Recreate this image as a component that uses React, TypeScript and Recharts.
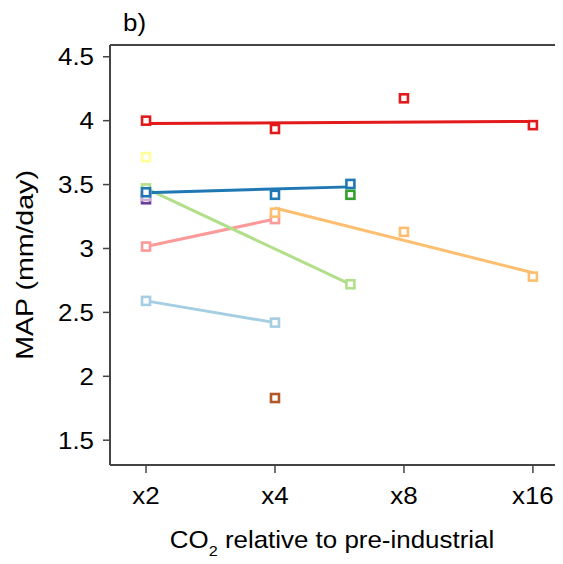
import React from 'react'
import {
  ScatterChart,
  Scatter,
  XAxis,
  YAxis,
  ReferenceLine
} from 'recharts'

// CO2 multipliers (x axis is log scale)
const xTicks = [2, 4, 8, 16]
const yTicks = [1.5, 2, 2.5, 3, 3.5, 4, 4.5]

// model points (MAP, mm/day)
const redX = [2, 4, 8, 16]
const redY = [4.0, 3.935, 4.175, 3.965]
const blueX = [2, 4, 6]
const blueY = [3.44, 3.42, 3.505]
const greenX = [6]
const greenY = [3.42]
const yellowX = [2]
const yellowY = [3.715]
const lightGreenX = [2, 6]
const lightGreenY = [3.47, 2.72]
const lightPurpleX = [2]
const lightPurpleY = [3.41]
const purpleX = [2]
const purpleY = [3.385]
const pinkX = [2, 4]
const pinkY = [3.015, 3.23]
const lightOrangeX = [4, 8, 16]
const lightOrangeY = [3.28, 3.13, 2.78]
const lightBlueX = [2, 4]
const lightBlueY = [2.59, 2.42]
const brownX = [4]
const brownY = [1.83]

// fitted lines (end points)
const redFitX = [2, 16]
const redFitY = [3.978, 3.994]
const blueFitX = [2, 6]
const blueFitY = [3.437, 3.482]
const lightGreenFitX = [2, 6]
const lightGreenFitY = [3.47, 2.72]
const pinkFitX = [2, 4]
const pinkFitY = [3.015, 3.23]
const lightOrangeFitX = [4, 16]
const lightOrangeFitY = [3.317, 2.81]
const lightBlueFitX = [2, 4]
const lightBlueFitY = [2.59, 2.42]

const X_DOMAIN = [1.648, 18.81]
const Y_DOMAIN = [1.306, 4.592]

const FONT = '"Liberation Sans", Arial, Helvetica, sans-serif'
const FS = 24
const WIDE = 1.08 // the original lettering is a bit wider than Arial
const AXIS = '#444'

const toRows = (xs: number[], ys: number[]) => xs.map((x, i) => ({ x, y: ys[i] }))

const fits = [
  { color: '#A6CEE3', data: toRows(lightBlueFitX, lightBlueFitY) },
  { color: '#FB9A99', data: toRows(pinkFitX, pinkFitY) },
  { color: '#B2DF8A', data: toRows(lightGreenFitX, lightGreenFitY) },
  { color: '#FDBF6F', data: toRows(lightOrangeFitX, lightOrangeFitY) },
  { color: '#1F78B4', data: toRows(blueFitX, blueFitY) },
  { color: '#E31A1C', data: toRows(redFitX, redFitY) }
]

const points = [
  { color: '#A6CEE3', data: toRows(lightBlueX, lightBlueY) },
  { color: '#B15928', data: toRows(brownX, brownY) },
  { color: '#FFFF99', data: toRows(yellowX, yellowY) },
  { color: '#FB9A99', data: toRows(pinkX, pinkY) },
  { color: '#FDBF6F', data: toRows(lightOrangeX, lightOrangeY) },
  { color: '#B2DF8A', data: toRows(lightGreenX, lightGreenY) },
  { color: '#6A3D9A', data: toRows(purpleX, purpleY) },
  { color: '#CAB2D6', data: toRows(lightPurpleX, lightPurpleY) },
  { color: '#33A02C', data: toRows(greenX, greenY) },
  { color: '#1F78B4', data: toRows(blueX, blueY) },
  { color: '#E31A1C', data: toRows(redX, redY) }
]

const stretch = (x: number, y: number, s: number, rot = 0) =>
  `translate(${x} ${y}) rotate(${rot}) scale(${s} 1) translate(${-x} ${-y})`

const square = (color: string) => (props: any) => {
  const { cx, cy } = props
  if (cx == null || cy == null) return <g />
  return (
    <rect
      x={cx - 4}
      y={cy - 4}
      width={8}
      height={8}
      fill="#fff"
      stroke={color}
      strokeWidth={2.6}
    />
  )
}

const XTick = ({ x, y, payload }: any) => (
  <text
    x={x}
    y={y}
    dy="0.71em"
    textAnchor="middle"
    fontSize={FS}
    fontFamily={FONT}
    fill="#000"
    transform={stretch(x, y, WIDE)}
  >
    {`x${payload.value}`}
  </text>
)

const YTick = ({ x, y, payload }: any) => (
  <text
    x={x}
    y={y}
    dy="0.355em"
    textAnchor="end"
    fontSize={FS}
    fontFamily={FONT}
    fill="#000"
    transform={stretch(x, y, WIDE)}
  >
    {payload.value}
  </text>
)

const YTitle = ({ viewBox }: any) => {
  const vb = viewBox || { x: 0, y: 37, width: 102, height: 420 }
  const x = vb.x + 25
  const y = vb.y + vb.height / 2 + 10
  return (
    <text
      x={x}
      y={y}
      transform={stretch(x, y, 1.19, -90)}
      textAnchor="middle"
      fontSize={FS}
      fontFamily={FONT}
      fill="#000"
    >
      MAP (mm/day)
    </text>
  )
}

const XTitle = ({ viewBox }: any) => {
  const vb = viewBox || { x: 102, y: 457, width: 453, height: 60 }
  const x = vb.x + 222
  const y = vb.y + 83
  return (
    <text
      x={x}
      y={y}
      textAnchor="middle"
      fontSize={FS}
      fontFamily={FONT}
      fill="#000"
      transform={stretch(x, y, WIDE)}
    >
      <tspan>CO</tspan>
      <tspan fontSize={15} dy={8}>2</tspan>
      <tspan dy={-8}> relative to pre-industrial</tspan>
    </text>
  )
}

const PanelTag = ({ viewBox }: any) => {
  const vb = viewBox || { x: 102, y: 37 }
  const x = vb.x + 13
  const y = vb.y - 14
  return (
    <text x={x} y={y} fontSize={FS} fontFamily={FONT} fill="#000" transform={stretch(x, y, WIDE)}>
      b)
    </text>
  )
}

export default function App() {
  return (
    <ScatterChart
      width={555}
      height={556}
      margin={{ top: 37, right: 0, bottom: 39, left: 0 }}
    >
      <XAxis
        type="number"
        dataKey="x"
        scale="log"
        domain={X_DOMAIN}
        allowDataOverflow
        ticks={xTicks}
        height={60}
        tickSize={8}
        tickMargin={14}
        axisLine={{ stroke: AXIS, strokeWidth: 2 }}
        tickLine={{ stroke: AXIS, strokeWidth: 1.5 }}
        tick={<XTick />}
        label={<XTitle />}
      />
      <YAxis
        type="number"
        dataKey="y"
        domain={Y_DOMAIN}
        allowDataOverflow
        ticks={yTicks}
        width={102}
        tickSize={7}
        tickMargin={9}
        axisLine={{ stroke: AXIS, strokeWidth: 2 }}
        tickLine={{ stroke: AXIS, strokeWidth: 1.5 }}
        tick={<YTick />}
        label={<YTitle />}
      />
      <ReferenceLine
        y={Y_DOMAIN[1]}
        stroke={AXIS}
        strokeWidth={2}
        label={<PanelTag />}
      />
      {fits.map((f, i) => (
        <Scatter
          key={`fit-${i}`}
          data={f.data}
          fill={f.color}
          line={{ stroke: f.color, strokeWidth: 3 }}
          shape={() => <g />}
          isAnimationActive={false}
        />
      ))}
      {points.map((p, i) => (
        <Scatter
          key={`pts-${i}`}
          data={p.data}
          fill={p.color}
          shape={square(p.color)}
          isAnimationActive={false}
        />
      ))}
    </ScatterChart>
  )
}
